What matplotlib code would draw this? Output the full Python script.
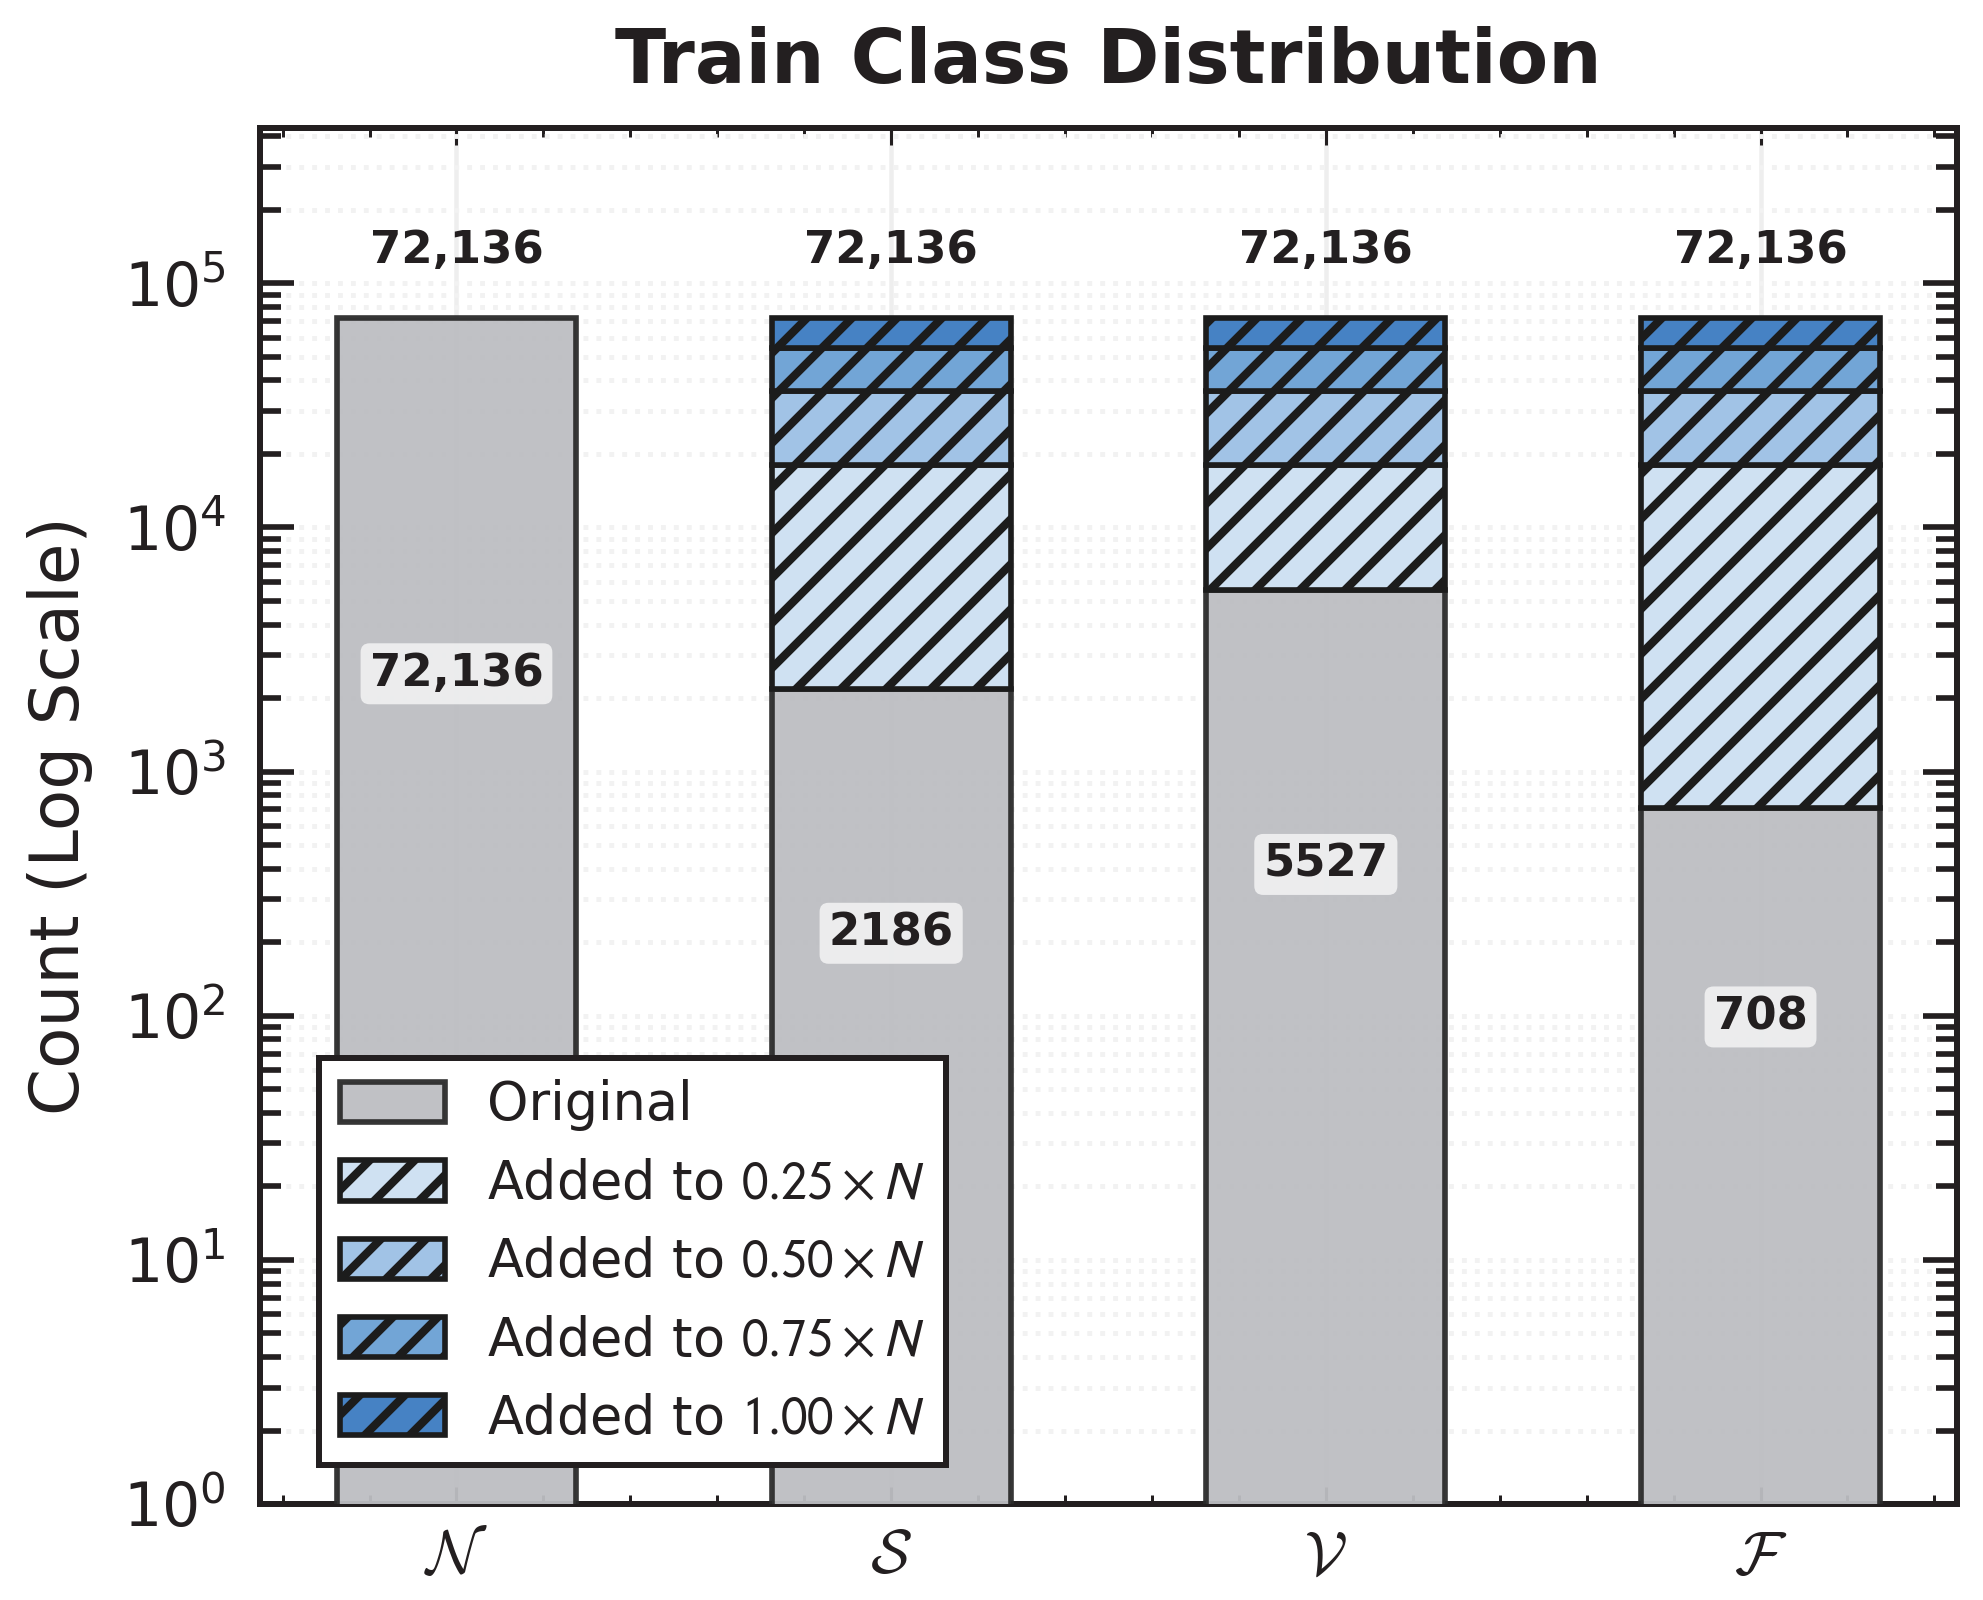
import numpy as np
import matplotlib
matplotlib.use('Agg')
import matplotlib.pyplot as plt
from matplotlib.ticker import AutoMinorLocator, LogLocator

# data
classes = [r'$\mathcal{N}$', r'$\mathcal{S}$', r'$\mathcal{V}$', r'$\mathcal{F}$']
original = [72136, 2186, 5527, 708]
target_fracs = [0.25, 0.50, 0.75, 1.00]
target_counts = [18034, 36068, 54102, 72136]
totals = [72136, 72136, 72136, 72136]

colors_added = ['#cfe1f2', '#a1c3e6', '#72a5d6', '#4682c4']
gray = '#bdbec2'
dark = '#231f20'
edge = '#1c1c1c'

plt.rcParams['font.family'] = ['DejaVu Sans']
plt.rcParams['mathtext.fontset'] = 'stixsans'
plt.rcParams['hatch.linewidth'] = 2.2
plt.rcParams['hatch.color'] = 'black'
plt.rcParams['text.color'] = dark
plt.rcParams['axes.labelcolor'] = dark
plt.rcParams['xtick.color'] = dark
plt.rcParams['ytick.color'] = dark
plt.rcParams['axes.edgecolor'] = dark

fig, ax = plt.subplots(figsize=(1983/270, 1600/270), dpi=270)
fig.subplots_adjust(left=0.131, right=0.987, top=0.92, bottom=0.06)

x = np.arange(len(classes))
width = 0.55
orig = np.array(original)

ax.bar(x, orig, width, color=gray, edgecolor='#2b2b2b', linewidth=1.5,
       alpha=0.95, zorder=3, label='Original')

prev = orig.copy()
for frac, tgt, col in zip(target_fracs, target_counts, colors_added):
    top = np.maximum(prev, tgt)
    h = top - prev
    m = h > 0
    bars = ax.bar(x[m], h[m], width, bottom=prev[m], color=col, edgecolor=edge,
                  linewidth=1.5, hatch='//', zorder=3,
                  label=rf'Added to ${frac:.2f}\times N$')
    for p in bars:
        try:
            p.set_hatchcolor('black')
        except AttributeError:
            pass
    prev = top

# labels
for i in range(len(classes)):
    ax.text(x[i], totals[i] * 1.55, f'{totals[i]:,}', ha='center', va='bottom',
            fontsize=12, fontweight='bold', zorder=5)
    v = original[i]
    s = f'{v:,}' if v >= 10000 else str(v)
    ax.text(x[i], v ** 0.7, s, ha='center', va='center', fontsize=12,
            fontweight='bold', zorder=5,
            bbox=dict(boxstyle='round,pad=0.2', facecolor='white', alpha=0.7,
                      edgecolor='none'))

ax.set_yscale('log')
ax.set_ylim(1, 72136 * 6)
ax.set_xticks(x)
ax.set_xticklabels(classes)
for lbl in ax.get_xticklabels():
    lbl.set_math_fontfamily('cm')
ax.xaxis.set_minor_locator(AutoMinorLocator(5))
ax.yaxis.set_minor_locator(LogLocator(base=10, subs=np.arange(2, 10), numticks=20))

ax.grid(axis='y', which='both', linestyle=':', linewidth=1.3, color='#f2f2f2', zorder=0)
ax.grid(axis='x', which='major', linestyle='-', linewidth=1.2, color='#eeeeee', zorder=0)
ax.set_axisbelow(True)

ax.tick_params(axis='y', which='major', direction='in', length=9, width=1.5,
               right=True, labelsize=16, pad=9)
ax.tick_params(axis='y', which='minor', direction='in', length=5.5, width=1.5, right=True)
ax.tick_params(axis='x', which='major', direction='in', length=4.5, width=0.8,
               top=True, labelsize=16.5, pad=6)
ax.tick_params(axis='x', which='minor', direction='in', length=2.5, width=0.8, top=True)

for sp in ax.spines.values():
    sp.set_linewidth(1.6)

ax.set_ylabel('Count (Log Scale)', fontsize=18, labelpad=8)
ax.set_title('Train Class Distribution', fontsize=20, fontweight='bold', pad=12)

leg = ax.legend(loc='lower left', bbox_to_anchor=(0.035, 0.028), borderaxespad=0,
                fontsize=14, fancybox=False, framealpha=1, edgecolor=dark,
                handlelength=2.0, handleheight=0.8)
leg.get_frame().set_linewidth(1.6)
leg.set_zorder(10)

fig.savefig('out.png', dpi=270)
